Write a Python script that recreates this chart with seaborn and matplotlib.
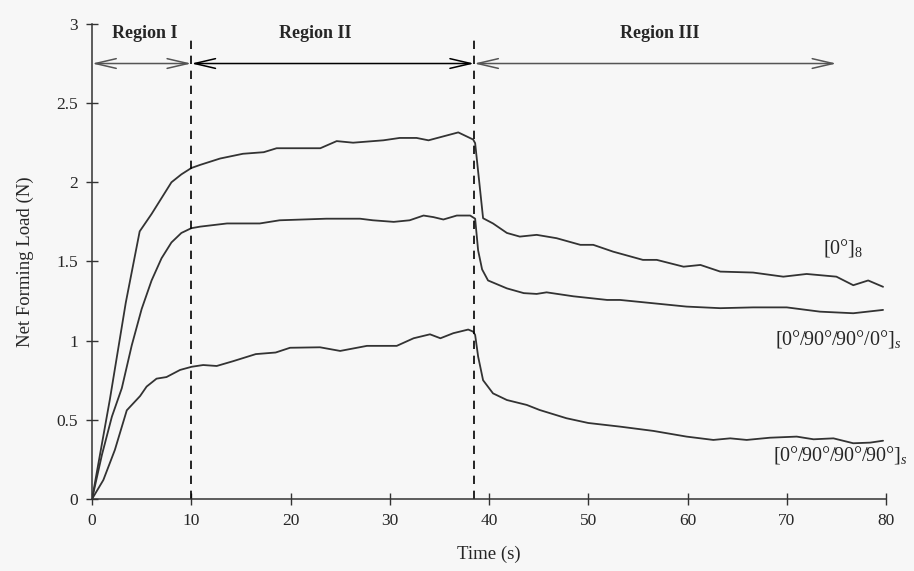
import matplotlib
matplotlib.use("Agg")
import matplotlib.pyplot as plt
import seaborn as sns
import pandas as pd

# ------------------------------------------------------------
# Data
# ------------------------------------------------------------
t_0_8 = [0, 1.8, 3.4, 4.8, 6.0, 7.0, 8.0, 9.0, 10.0, 10.9, 12.9, 15.2, 17.3, 18.6,
         23.0, 24.65, 26.3, 29.35, 31.0, 32.7, 33.9, 35.4, 36.9, 38.4, 38.6, 39.4,
         40.4, 41.8, 43.1, 44.8, 46.8, 49.2, 50.5, 52.5, 55.5, 56.9, 59.6, 61.3,
         63.3, 66.6, 69.65, 72.0, 75.0, 76.7, 78.2, 79.7]
load_0_8 = [0, 0.63, 1.24, 1.69, 1.80, 1.90, 2.0, 2.05, 2.09, 2.11, 2.15, 2.18, 2.19,
            2.215, 2.215, 2.26, 2.25, 2.265, 2.28, 2.28, 2.265, 2.29, 2.315, 2.27,
            2.247, 1.773, 1.74, 1.68, 1.657, 1.668, 1.647, 1.605, 1.605, 1.562, 1.51,
            1.51, 1.467, 1.478, 1.436, 1.43, 1.404, 1.421, 1.404, 1.35, 1.38, 1.34]

t_cross0 = [0, 1, 2, 3, 4, 5, 6, 7, 8, 9, 10, 10.9, 13.6, 16.9, 18.9, 23.6, 27.0,
            28.3, 30.4, 32.0, 33.4, 34.4, 35.4, 36.75, 38.1, 38.6, 38.9, 39.3, 39.9,
            41.8, 43.5, 44.8, 45.8, 48.5, 51.9, 53.2, 56.55, 59.9, 63.3, 66.6, 70.0,
            73.35, 76.7, 79.7]
load_cross0 = [0, 0.28, 0.52, 0.70, 0.97, 1.2, 1.38, 1.52, 1.62, 1.68, 1.71, 1.72,
               1.74, 1.74, 1.76, 1.77, 1.77, 1.76, 1.75, 1.76, 1.79, 1.78, 1.765,
               1.79, 1.79, 1.77, 1.57, 1.45, 1.38, 1.33, 1.30, 1.295, 1.305, 1.28,
               1.257, 1.257, 1.236, 1.215, 1.205, 1.21, 1.21, 1.183, 1.173, 1.194]

t_cross90 = [0, 1.14, 2.3, 3.5, 4.84, 5.5, 6.5, 7.5, 8.87, 10.04, 11.2, 12.56, 14.2,
             16.5, 18.5, 19.95, 22.97, 25.0, 27.7, 30.7, 32.4, 34.05, 35.1, 36.4,
             37.9, 38.4, 38.6, 38.9, 39.4, 40.4, 41.8, 43.8, 45.1, 47.8, 50.0, 53.2,
             56.55, 59.9, 62.6, 64.3, 65.96, 68.3, 71.0, 72.7, 74.7, 76.7, 78.4, 79.7]
load_cross90 = [0, 0.12, 0.31, 0.56, 0.65, 0.71, 0.76, 0.77, 0.815, 0.835, 0.846,
                0.84, 0.87, 0.915, 0.925, 0.955, 0.958, 0.935, 0.967, 0.967, 1.015,
                1.04, 1.015, 1.047, 1.07, 1.057, 1.036, 0.9, 0.75, 0.667, 0.625,
                0.594, 0.562, 0.51, 0.48, 0.457, 0.43, 0.394, 0.373, 0.383, 0.373,
                0.387, 0.394, 0.377, 0.383, 0.352, 0.356, 0.368]

series_labels = [r"[0°]$_8$", r"[0°/90°/90°/0°]$_s$", r"[0°/90°/90°/90°]$_s$"]
label_pos = [(75.7, 1.585), (75.2, 1.01), (75.4, 0.28)]

region_names = ["Region I", "Region II", "Region III"]
region_bounds = [(0, 10), (10, 38.5), (38.5, 75.0)]
region_label_x = [5.3, 22.5, 57.2]
region_boundaries = [10, 38.5]

# ------------------------------------------------------------
# Plot
# ------------------------------------------------------------
sns.set_style("ticks")
plt.rcParams["font.family"] = ["Liberation Serif", "DejaVu Serif"]
plt.rcParams["mathtext.fontset"] = "custom"
plt.rcParams["mathtext.rm"] = "Liberation Serif"
plt.rcParams["mathtext.it"] = "Liberation Serif:italic"

bg = "#f7f7f7"
ink = "#333333"

fig = plt.figure(figsize=(9.14, 5.71), dpi=100, facecolor=bg)
ax = fig.add_axes([0.1007, 0.1261, 0.8687, 0.832])
ax.set_facecolor(bg)

for t, y in [(t_0_8, load_0_8), (t_cross0, load_cross0), (t_cross90, load_cross90)]:
    df = pd.DataFrame({"t": t, "load": y})
    sns.lineplot(data=df, x="t", y="load", sort=False, color=ink, lw=1.3, ax=ax)

for xb in region_boundaries:
    ax.plot([xb, xb], [0, 2.9], color="black", lw=1.2, ls=(0, (5, 4)))

arrow_colors = ["#555555", "black", "#555555"]
for (x0, x1), name, lx, c in zip(region_bounds, region_names, region_label_x, arrow_colors):
    ax.annotate("", xy=(x1, 2.75), xytext=(x0, 2.75),
                arrowprops=dict(arrowstyle="<->,head_length=1.5,head_width=0.35",
                                color=c, lw=1.1, shrinkA=0, shrinkB=0,
                                mutation_scale=10))
    ax.text(lx, 2.94, name, ha="center", va="center", fontsize=13,
            fontweight="bold")

for lab, (lx, ly) in zip(series_labels, label_pos):
    ax.text(lx, ly, lab, ha="center", va="center", fontsize=14.5)

ax.set_xlim(0, 80)
ax.set_ylim(0, 3)
ax.set_xticks(range(0, 81, 10))
ax.set_yticks([0, 0.5, 1, 1.5, 2, 2.5, 3])
ax.set_yticklabels(["0", "0.5", "1", "1.5", "2", "2.5", "3"])
ax.tick_params(direction="inout", length=8, width=1, color=ink, labelsize=12.5,
               pad=6)
sns.despine(ax=ax)
for s in ["left", "bottom"]:
    ax.spines[s].set_color(ink)
    ax.spines[s].set_linewidth(1.1)

ax.set_xlabel("Time (s)", fontsize=13.5, labelpad=12)
ax.set_ylabel("Net Forming Load (N)", fontsize=13.5, labelpad=16)

fig.savefig("out.png", dpi=100, facecolor=bg)
